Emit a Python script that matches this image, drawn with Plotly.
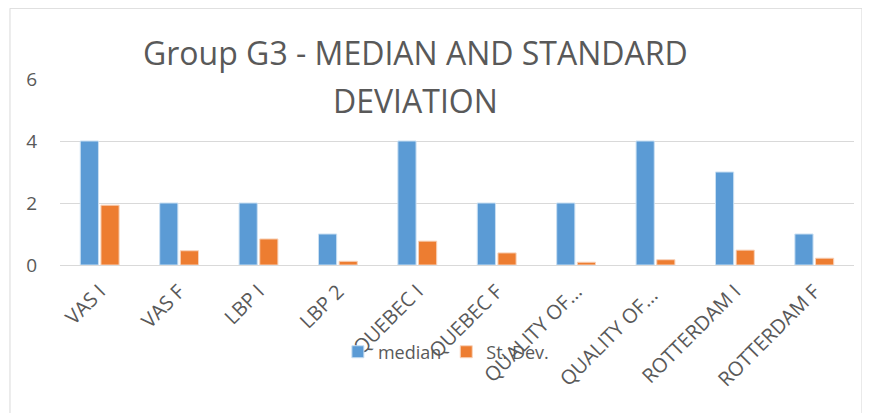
import plotly.graph_objects as go

categories = ["VAS I", "VAS F", "LBP I", "LBP 2", "QUEBEC I", "QUEBEC F",
              "QUALITY OF...", "QUALITY OF... ", "ROTTERDAM I", "ROTTERDAM F"]
median = [4, 2, 2, 1, 4, 2, 2, 4, 3, 1]
st_dev = [1.93, 0.46, 0.84, 0.12, 0.77, 0.39, 0.09, 0.17, 0.48, 0.22]
y_ticks = [0, 2, 4, 6]

FONT = "Open Sans, Liberation Sans, sans-serif"
GREY = "#595959"

fig = go.Figure()
fig.add_trace(go.Bar(name="median", x=categories, y=median,
                     marker=dict(color="#5b9bd5", line=dict(color="#c9dff2", width=1))))
fig.add_trace(go.Bar(name="St. Dev.", x=categories, y=st_dev,
                     marker=dict(color="#ed7d31", line=dict(color="#f8d3bb", width=1))))

fig.update_layout(
    width=862, height=405,
    margin=dict(l=52, r=16, t=71, b=148),
    paper_bgcolor="white", plot_bgcolor="white",
    barmode="group", bargap=0.48, bargroupgap=0.12,
    font=dict(family=FONT, color=GREY),
    showlegend=True,
    legend=dict(orientation="h", x=0.486, xanchor="center", y=-0.468, yanchor="middle",
                font=dict(size=18, color=GREY), traceorder="normal",
                bgcolor="rgba(0,0,0,0)"),
    xaxis=dict(tickangle=-45, tickfont=dict(size=20, color=GREY), showgrid=False,
               showline=True, linecolor="#d9d9d9", linewidth=1, ticks="",
               ticklabelstandoff=6),
    yaxis=dict(range=[0, 6], tickvals=y_ticks, tickfont=dict(size=19, color=GREY),
               gridcolor="#d9d9d9", gridwidth=1, zeroline=False, showline=False,
               ticklabelstandoff=22),
    annotations=[
        dict(text="Group G3 - MEDIAN AND STANDARD", xref="paper", yref="paper",
             x=0.448, y=1.145, xanchor="center", yanchor="middle", showarrow=False,
             font=dict(size=32, color=GREY, family=FONT)),
        dict(text="DEVIATION", xref="paper", yref="paper",
             x=0.448, y=0.887, xanchor="center", yanchor="middle", showarrow=False,
             font=dict(size=32, color=GREY, family=FONT)),
    ],
    shapes=[dict(type="rect", xref="paper", yref="paper",
                 x0=-0.063, x1=1.01, y0=-0.9, y1=1.38,
                 line=dict(color="#d9d9d9", width=1), fillcolor="rgba(0,0,0,0)", layer="below")],
)

fig.write_html("out.html")
